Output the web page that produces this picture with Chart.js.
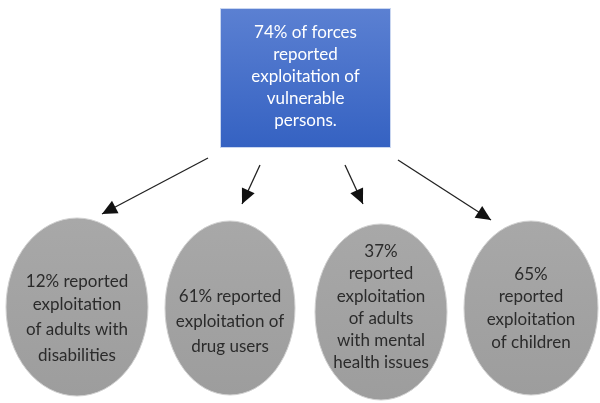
<!DOCTYPE html>
<html>
<head>
<meta charset="utf-8">
<script src="https://cdn.jsdelivr.net/npm/chart.js@4/dist/chart.umd.min.js"></script>
<style>
  html, body { margin: 0; padding: 0; background: #fff; }
  #wrap { width: 600px; height: 403px; }
</style>
</head>
<body>
<div id="wrap"><canvas id="myChart"></canvas></div>
<script>
// top box text
const headline = ['74% of forces', 'reported', 'exploitation of', 'vulnerable', 'persons.'];

// the four groups
const groupLabels = [
    ['12% reported', 'exploitation', 'of adults with', 'disabilities'],
    ['61% reported', 'exploitation of', 'drug users'],
    ['37%', 'reported', 'exploitation', 'of adults', 'with mental', 'health issues'],
    ['65%', 'reported', 'exploitation', 'of children']
];
const groupShares = [12, 61, 37, 65];

// layout in axis units (x 0..600, y 0..403 top-down)
const box = { x0: 221, y0: 9, x1: 390, y1: 147, lineY: [33, 55, 77, 99, 121] };
const ovals = [
    { cx: 77, cy: 307, rx: 71, ry: 89, lineY: [282, 305, 330, 356] },
    { cx: 230, cy: 308, rx: 65, ry: 87, lineY: [297, 322, 347] },
    { cx: 381, cy: 312, rx: 66, ry: 88, lineY: [252, 274, 297, 319, 341, 363] },
    { cx: 531, cy: 308, rx: 67, ry: 87, lineY: [275, 297, 320, 343] }
];
const arrowFrom = [[208, 158], [260, 165], [345, 165], [398, 160]];
const arrowTo = [[102, 214], [242, 204], [363, 204], [491, 220]];

const ctx = document.getElementById('myChart').getContext('2d');

// arrows as line datasets
const datasets = arrowFrom.map((p, i) => ({
    label: 'arrow ' + (i + 1),
    data: [{ x: p[0], y: p[1] }, { x: arrowTo[i][0], y: arrowTo[i][1] }],
    showLine: true,
    borderColor: '#222',
    borderWidth: 1.3,
    pointRadius: 0
}));

const diagram = {
    id: 'diagram',
    beforeDatasetsDraw(chart) {
        const c = chart.ctx;
        const sx = chart.scales.x, sy = chart.scales.y;
        const px = v => sx.getPixelForValue(v);
        const py = v => sy.getPixelForValue(v);
        c.save();

        // blue box
        const bx = px(box.x0), by = py(box.y0);
        const bw = px(box.x1) - bx, bh = py(box.y1) - by;
        const g = c.createLinearGradient(0, by, 0, by + bh);
        g.addColorStop(0, '#5b80d2');
        g.addColorStop(1, '#3562c2');
        c.fillStyle = g;
        c.fillRect(bx, by, bw, bh);
        c.strokeStyle = '#c9d6f0';
        c.lineWidth = 1;
        c.strokeRect(bx - 0.5, by - 0.5, bw + 1, bh + 1);
        c.fillStyle = '#ffffff';
        c.font = '17px Lato';
        c.textAlign = 'center';
        c.textBaseline = 'middle';
        headline.forEach((t, i) => c.fillText(t, (px(box.x0) + px(box.x1)) / 2, py(box.lineY[i])));

        // grey ovals
        ovals.forEach((o, i) => {
            const cx = px(o.cx), cy = py(o.cy);
            const rx = px(o.cx + o.rx) - cx, ry = py(o.cy + o.ry) - cy;
            const gg = c.createLinearGradient(0, cy - ry, 0, cy + ry);
            gg.addColorStop(0, '#a8a8a8');
            gg.addColorStop(1, '#9d9d9d');
            c.beginPath();
            c.ellipse(cx, cy, rx, ry, 0, 0, Math.PI * 2);
            c.fillStyle = gg;
            c.fill();
            c.strokeStyle = '#d0d0d0';
            c.lineWidth = 1;
            c.stroke();
            c.fillStyle = '#2b2b2b';
            c.font = '17px Lato';
            groupLabels[i].forEach((t, j) => c.fillText(t, cx, py(o.lineY[j])));
        });
        c.restore();
    },
    afterDatasetsDraw(chart) {
        const c = chart.ctx;
        const sx = chart.scales.x, sy = chart.scales.y;
        c.save();
        c.fillStyle = '#111';
        arrowTo.forEach((t, i) => {
            const x1 = sx.getPixelForValue(t[0]), y1 = sy.getPixelForValue(t[1]);
            const x0 = sx.getPixelForValue(arrowFrom[i][0]), y0 = sy.getPixelForValue(arrowFrom[i][1]);
            const a = Math.atan2(y1 - y0, x1 - x0);
            const len = 15, half = 7;
            c.beginPath();
            c.moveTo(x1, y1);
            c.lineTo(x1 - len * Math.cos(a) + half * Math.sin(a), y1 - len * Math.sin(a) - half * Math.cos(a));
            c.lineTo(x1 - len * Math.cos(a) - half * Math.sin(a), y1 - len * Math.sin(a) + half * Math.cos(a));
            c.closePath();
            c.fill();
        });
        c.restore();
    }
};

const myChart = new Chart(ctx, {
    type: 'scatter',
    data: { datasets: datasets },
    options: {
        responsive: true,
        maintainAspectRatio: false,
        animation: false,
        layout: { padding: 0 },
        plugins: { legend: { display: false }, tooltip: { enabled: false } },
        scales: {
            x: { type: 'linear', min: 0, max: 600, display: false },
            y: { type: 'linear', min: 0, max: 403, reverse: true, display: false }
        }
    },
    plugins: [diagram]
});
</script>
</body>
</html>
